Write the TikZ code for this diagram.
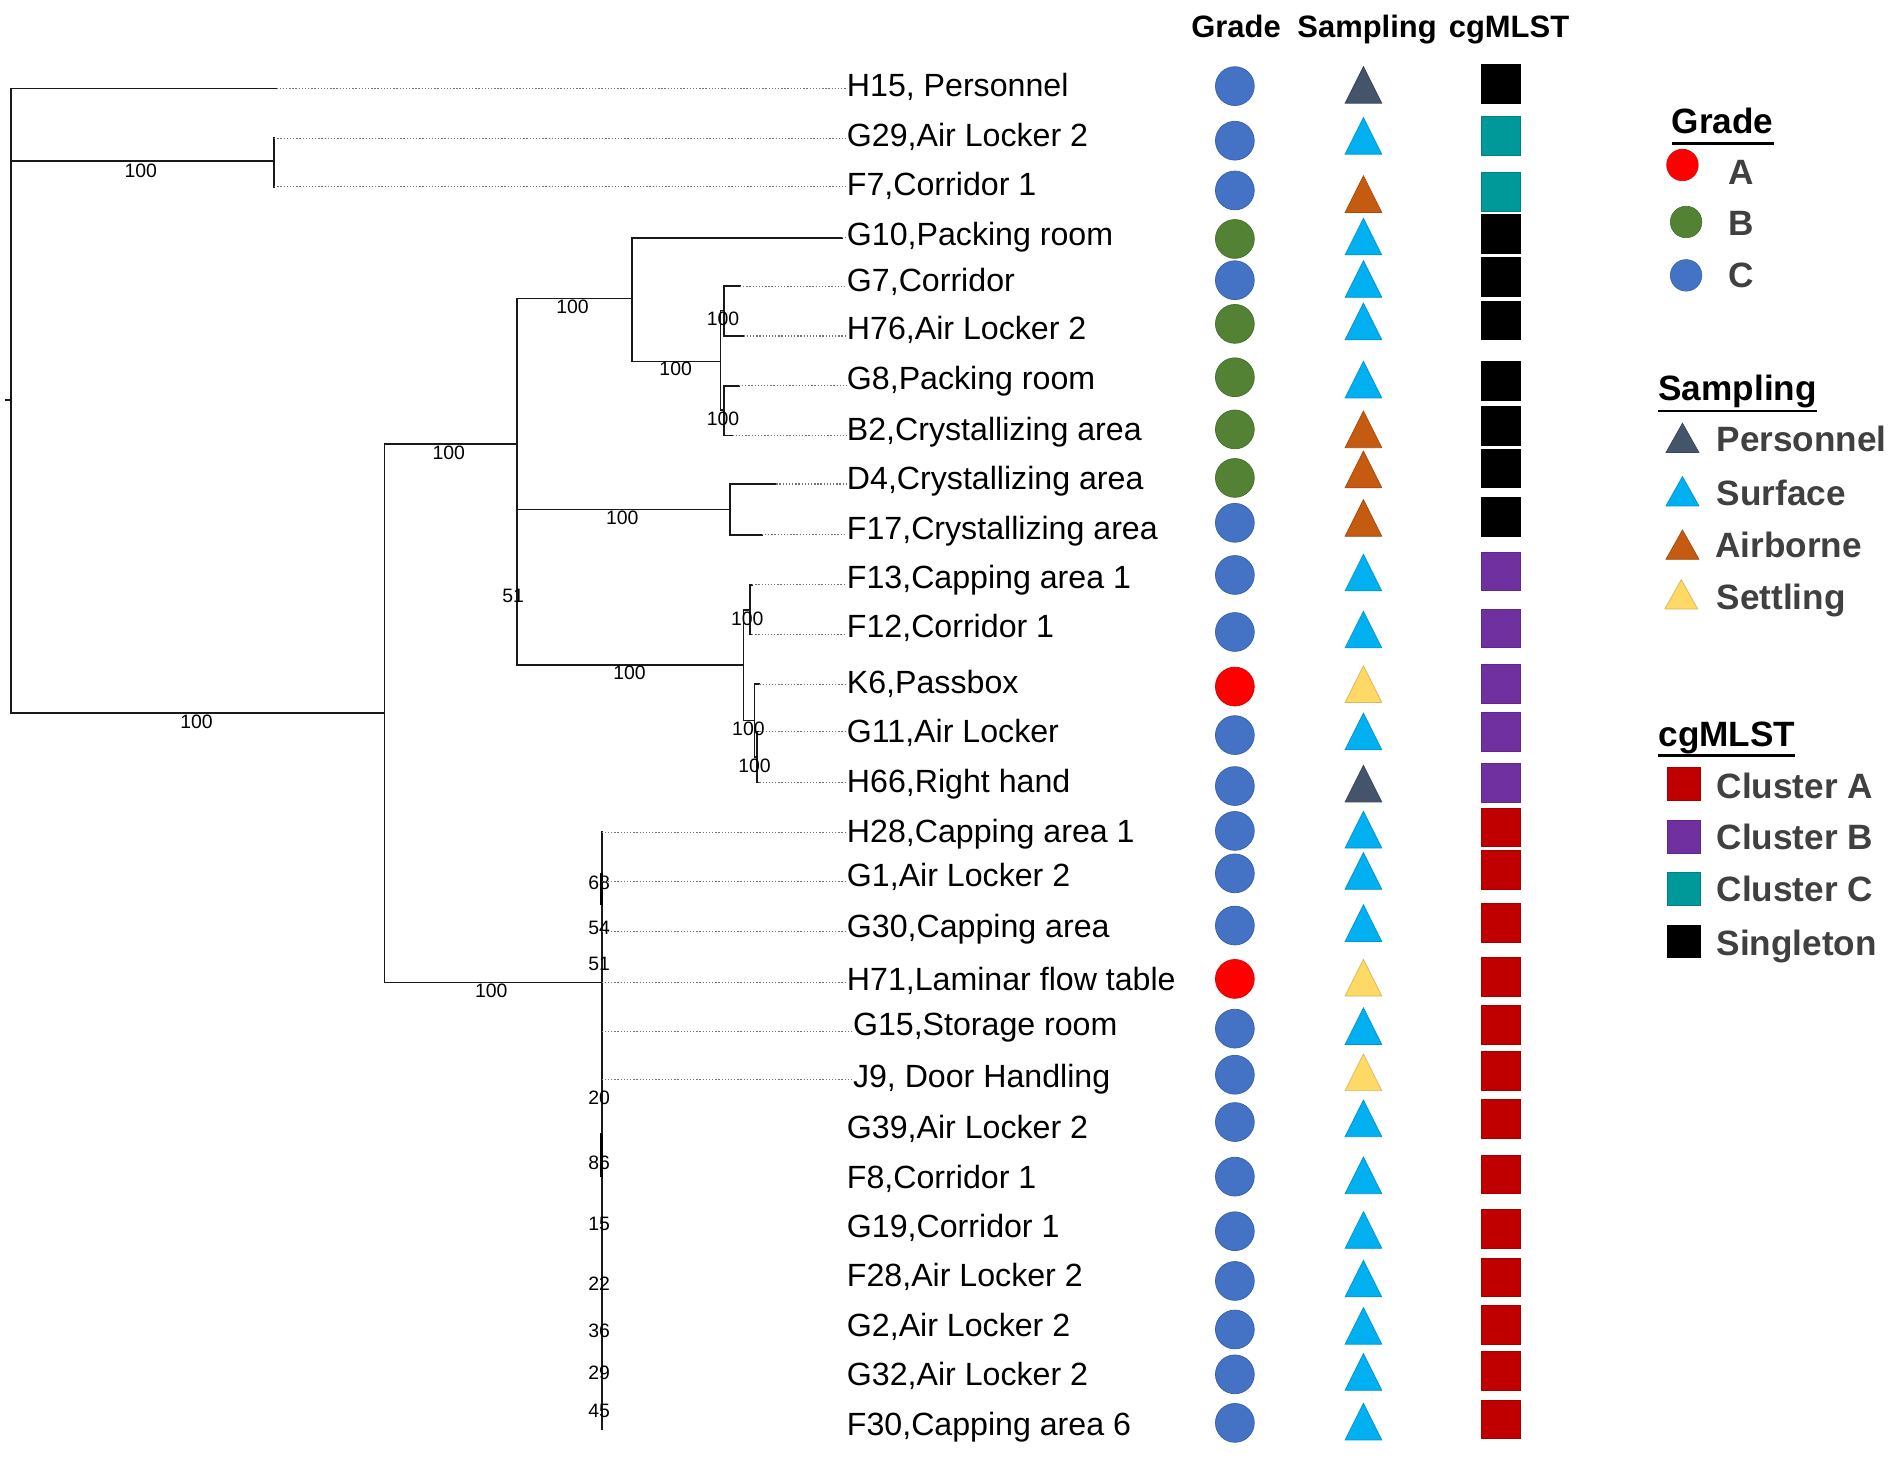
\documentclass[tikz,border=0pt]{standalone}
\usepackage{fontspec}
\setmainfont{Liberation Sans}
\usetikzlibrary{shapes.geometric}
\definecolor{gA}{HTML}{FF0000}
\definecolor{gB}{HTML}{548235}
\definecolor{gC}{HTML}{4472C4}
\definecolor{sP}{HTML}{44546A}
\definecolor{sS}{HTML}{00B0F0}
\definecolor{sA}{HTML}{C55A11}
\definecolor{sT}{HTML}{FFD966}
\definecolor{cA}{HTML}{C00000}
\definecolor{cB}{HTML}{7030A0}
\definecolor{cC}{HTML}{009999}
\definecolor{cS}{HTML}{000000}
\definecolor{leggray}{HTML}{404040}
\begin{document}
\begin{tikzpicture}[x=1pt,y=-1pt,
  tree/.style={line width=1.4pt, black!90, line cap=rect},
  thickseg/.style={line width=2.8pt, black},
  dotl/.style={black!55, line width=0.9pt, dash pattern=on 1.1pt off 1.5pt},
  lab/.style={anchor=base west, inner sep=0pt, font=\fontsize{26.5}{30}\selectfont},
  bs/.style={inner sep=0pt, font=\fontsize{16}{18}\selectfont},
  hdr/.style={anchor=base, inner sep=0pt, font=\fontsize{25.5}{30}\selectfont\bfseries},
  legt/.style={anchor=base west, inner sep=0pt, font=\fontsize{29}{34}\selectfont\bfseries},
  legi/.style={anchor=base west, inner sep=0pt, text=leggray, font=\fontsize{29}{34}\selectfont\bfseries},
  circ/.style={circle, minimum size=32pt, inner sep=0pt, fill=#1, draw=#1!85!black, line width=0.6pt},
  tri/.style={rectangle, minimum width=31pt, minimum height=31pt, inner sep=0pt,
    path picture={\filldraw[fill=#1, draw=#1!85!black, line width=0.6pt]
      ([xshift=0.4pt,yshift=0.4pt]path picture bounding box.south west) --
      ([xshift=-0.4pt,yshift=0.4pt]path picture bounding box.south east) --
      ([yshift=-0.4pt]path picture bounding box.north) -- cycle;}},
  sq/.style={rectangle, minimum size=32pt, inner sep=0pt, fill=#1, draw=#1!85!black, line width=0.5pt},
  lcirc/.style={circle, minimum size=26pt, inner sep=0pt, fill=#1, draw=#1!85!black, line width=0.5pt},
  ltri/.style={rectangle, minimum width=28pt, minimum height=25pt, inner sep=0pt,
    path picture={\filldraw[fill=#1, draw=#1!85!black, line width=0.6pt]
      ([xshift=0.4pt,yshift=0.4pt]path picture bounding box.south west) --
      ([xshift=-0.4pt,yshift=0.4pt]path picture bounding box.south east) --
      ([yshift=-0.4pt]path picture bounding box.north) -- cycle;}},
  lsq/.style={rectangle, minimum size=27pt, inner sep=0pt, fill=#1, draw=#1!85!black, line width=0.5pt}
]
\fill[white] (0,0) rectangle (1568,1205);
\useasboundingbox (0,0) rectangle (1568,1205);

% ---------- internal nodes ----------
\coordinate (rs) at (5,330);
\coordinate (root) at (9,330);
\coordinate (nA) at (226,133);
\coordinate (nB) at (317,588);
\coordinate (nC) at (426,366);
\coordinate (nD) at (521,246);
\coordinate (nE) at (594,298);
\coordinate (nE1) at (597,256);
\coordinate (nE2) at (597,338);
\coordinate (nF) at (602,420);
\coordinate (nG) at (613,548);
\coordinate (nG1) at (618,503);
\coordinate (nH) at (622,594);
\coordinate (nH1) at (624,624);
\coordinate (nI) at (496,810);
\coordinate (nIb) at (496,1178);
\coordinate (k1a) at (496,720);
\coordinate (k1b) at (496,746);
\coordinate (k2a) at (496,934);
\coordinate (k2b) at (496,970);

% ---------- leaf tips ----------
\coordinate (tH15) at (228,73);
\coordinate (tG29) at (226,114);
\coordinate (tF7) at (226,154);
\coordinate (tG10) at (694,196);
\coordinate (tG7) at (610,236);
\coordinate (tH76) at (613,277);
\coordinate (tG8) at (609,318);
\coordinate (tB2) at (604,359);
\coordinate (tD4) at (640,399);
\coordinate (tF17) at (628,441);
\coordinate (tF13) at (620,482);
\coordinate (tF12) at (620,523);
\coordinate (tK6) at (626,564);
\coordinate (tG11) at (626,603);
\coordinate (tH66) at (626,645);
\coordinate (tH28) at (496,686);
\coordinate (tG1) at (496,727);
\coordinate (tG30) at (496,768);
\coordinate (tH71) at (496,810);
\coordinate (tG15) at (496,850);
\coordinate (tJ9) at (496,890);

% ---------- tree edges ----------
\draw[tree] (rs) -- (root);
\draw[tree] (root) |- (tH15);
\draw[tree] (root) |- (nA);
\draw[tree] (root) |- (nB);
\draw[tree] (nA) |- (tG29);
\draw[tree] (nA) |- (tF7);
\draw[tree] (nB) |- (nC);
\draw[tree] (nB) |- (nI);
\draw[tree] (nC) |- (nD);
\draw[tree] (nC) |- (nF);
\draw[tree] (nC) |- (nG);
\draw[tree] (nD) |- (tG10);
\draw[tree] (nD) |- (nE);
\draw[tree] (nE) |- (nE1);
\draw[tree] (nE) |- (nE2);
\draw[tree] (nE1) |- (tG7);
\draw[tree] (nE1) |- (tH76);
\draw[tree] (nE2) |- (tG8);
\draw[tree] (nE2) |- (tB2);
\draw[tree] (nF) |- (tD4);
\draw[tree] (nF) |- (tF17);
\draw[tree] (nG) |- (nG1);
\draw[tree] (nG) |- (nH);
\draw[tree] (nG1) |- (tF13);
\draw[tree] (nG1) |- (tF12);
\draw[tree] (nH) |- (tK6);
\draw[tree] (nH) |- (nH1);
\draw[tree] (nH1) |- (tG11);
\draw[tree] (nH1) |- (tH66);
\draw[tree] (nI) |- (tH28);
\draw[tree] (nI) -- (nIb);
\draw[thickseg] (k1a) -- (k1b);
\draw[thickseg] (k2a) -- (k2b);

% ---------- support values ----------
\node[bs] (b1) at (116,141) {100};
\node[bs] (b2) at (162,595) {100};
\node[bs] (b3) at (370,373) {100};
\node[bs] (b4) at (472,253) {100};
\node[bs] (b5) at (557,304) {100};
\node[bs] (b6) at (596,263) {100};
\node[bs] (b7) at (596,345) {100};
\node[bs] (b8) at (513,427) {100};
\node[bs] (b9) at (423,491) {51};
\node[bs] (b10) at (519,555) {100};
\node[bs] (b11) at (616,510) {100};
\node[bs] (b12) at (617,601) {100};
\node[bs] (b13) at (622,631) {100};
\node[bs] (b14) at (405,817) {100};
\node[bs] (p1) at (494,728) {68};
\node[bs] (p2) at (494,765) {54};
\node[bs] (p3) at (494,795) {51};
\node[bs] (p4) at (494,905) {20};
\node[bs] (p5) at (494,959) {86};
\node[bs] (p6) at (494,1009) {15};
\node[bs] (p7) at (494,1058) {22};
\node[bs] (p8) at (494,1097) {36};
\node[bs] (p9) at (494,1132) {29};
\node[bs] (p10) at (494,1163) {45};

% ---------- leaf labels ----------
\node[lab] (lH15) at (698,79.5) {H15, Personnel};
\node[lab] (lG29) at (698,120.5) {G29,Air Locker 2};
\node[lab] (lF7) at (698,161.5) {F7,Corridor 1};
\node[lab] (lG10) at (698,202.5) {G10,Packing room};
\node[lab] (lG7) at (698,240.5) {G7,Corridor};
\node[lab] (lH76) at (698,279.5) {H76,Air Locker 2};
\node[lab] (lG8) at (698,321.5) {G8,Packing room};
\node[lab] (lB2) at (698,363.5) {B2,Crystallizing area};
\node[lab] (lD4) at (698,403.5) {D4,Crystallizing area};
\node[lab] (lF17) at (698,444.5) {F17,Crystallizing area};
\node[lab] (lF13) at (698,485.5) {F13,Capping area 1};
\node[lab] (lF12) at (698,525.5) {F12,Corridor 1};
\node[lab] (lK6) at (698,571.5) {K6,Passbox};
\node[lab] (lG11) at (698,612.5) {G11,Air Locker};
\node[lab] (lH66) at (698,653.5) {H66,Right hand};
\node[lab] (lH28) at (698,694.5) {H28,Capping area 1};
\node[lab] (lG1) at (698,730.5) {G1,Air Locker 2};
\node[lab] (lG30) at (698,772.5) {G30,Capping area};
\node[lab] (lH71) at (698,816.5) {H71,Laminar flow table};
\node[lab] (lG15) at (703,853.5) {G15,Storage room};
\node[lab] (lJ9) at (703,896.5) {J9, Door Handling};
\node[lab] (lG39) at (698,938.5) {G39,Air Locker 2};
\node[lab] (lF8) at (698,979.5) {F8,Corridor 1};
\node[lab] (lG19) at (698,1020.5) {G19,Corridor 1};
\node[lab] (lF28) at (698,1060.5) {F28,Air Locker 2};
\node[lab] (lG2) at (698,1101.5) {G2,Air Locker 2};
\node[lab] (lG32) at (698,1142.5) {G32,Air Locker 2};
\node[lab] (lF30) at (698,1183.5) {F30,Capping area 6};

% ---------- dotted leaders ----------
\foreach \t in {H15,G29,F7,G10,G7,H76,G8,B2,D4,F17,F13,F12,K6,G11,H66,H28,G1,G30,H71,G15,J9}
  \draw[dotl] (t\t) -- (t\t -| l\t.west);

% ---------- headers ----------
\node[hdr] (hG) at (1019,31) {Grade};
\node[hdr] (hS) at (1127,31) {Sampling};
\node[hdr] (hC) at (1244,31) {cgMLST};

% ---------- markers ----------
\foreach \i/\cy/\ty/\sy/\g/\s/\c in {
  1/71/70/69/gC/sP/cS, 2/116/112/112/gC/sS/cC, 3/157/160/158/gC/sA/cC,
  4/197/195/193/gB/sS/cS, 5/231/230/228/gC/sS/cS, 6/267/265/264/gB/sS/cS,
  7/311/313/314/gB/sS/cS, 8/354/354/351/gB/sA/cS, 9/394/387/386/gB/sA/cS,
  10/431/427/426/gC/sA/cS, 11/474/472/471/gC/sS/cB, 12/521/519/518/gC/sS/cB,
  13/566/564/564/gA/sT/cB, 14/606/603/603/gC/sS/cB, 15/648/646/645/gC/sP/cB,
  16/685/684/682/gC/sS/cA, 17/720/718/717/gC/sS/cA, 18/763/761/761/gC/sS/cA,
  19/807/806/805/gA/sT/cA, 20/848/846/845/gC/sS/cA, 21/886/884/883/gC/sT/cA,
  22/925/922/922/gC/sS/cA, 23/970/969/968/gC/sS/cA, 24/1015/1014/1013/gC/sS/cA,
  25/1056/1054/1053/gC/sS/cA, 26/1096/1093/1092/gC/sS/cA, 27/1133/1131/1130/gC/sS/cA,
  28/1173/1172/1170/gC/sS/cA}
{
  \node[circ=\g] (mg\i) at (1018,\cy) {};
  \node[tri=\s] (ms\i) at (1124,\ty) {};
  \node[sq=\c] (mc\i) at (1237,\sy) {};
}

% ---------- legend ----------
\node[legt] (LG) at (1378,110.4) {Grade};
\draw[line width=2pt] ([yshift=-8pt]LG.base west) -- ([yshift=-8pt]LG.base east);
\node[lcirc=gA] (LGa) at (1387,136) {};
\node[lcirc=gB] (LGb) at (1390,183) {};
\node[lcirc=gC] (LGc) at (1390,227) {};
\node[legi] (LGat) at (1425,152.4) {A};
\node[legi] (LGbt) at (1425,194.4) {B};
\node[legi] (LGct) at (1425,237.4) {C};

\node[legt] (LS) at (1367,330.4) {Sampling};
\draw[line width=2pt] ([yshift=-8.5pt]LS.base west) -- ([yshift=-8.5pt]LS.base east);
\node[ltri=sP] (LSp) at (1387,361) {};
\node[ltri=sS] (LSs) at (1387,405) {};
\node[ltri=sA] (LSa) at (1387,449) {};
\node[ltri=sT] (LSt) at (1386,490) {};
\node[legi] (LSpt) at (1415,372.4) {Personnel};
\node[legi] (LSst) at (1415,416.4) {Surface};
\node[legi] (LSat) at (1414,459.4) {Airborne};
\node[legi] (LStt) at (1415,502.4) {Settling};

\node[legt] (LC) at (1367,615.4) {cgMLST};
\draw[line width=2pt] ([yshift=-7.5pt]LC.base west) -- ([yshift=-7.5pt]LC.base east);
\node[lsq=cA] (LCa) at (1388,646) {};
\node[lsq=cB] (LCb) at (1388,690) {};
\node[lsq=cC] (LCc) at (1388,733) {};
\node[lsq=cS] (LCs) at (1388,776) {};
\node[legi] (LCat) at (1415,658.4) {Cluster A};
\node[legi] (LCbt) at (1415,700.4) {Cluster B};
\node[legi] (LCct) at (1415,743.4) {Cluster C};
\node[legi] (LCst) at (1415,787.4) {Singleton};
\end{tikzpicture}
\end{document}
